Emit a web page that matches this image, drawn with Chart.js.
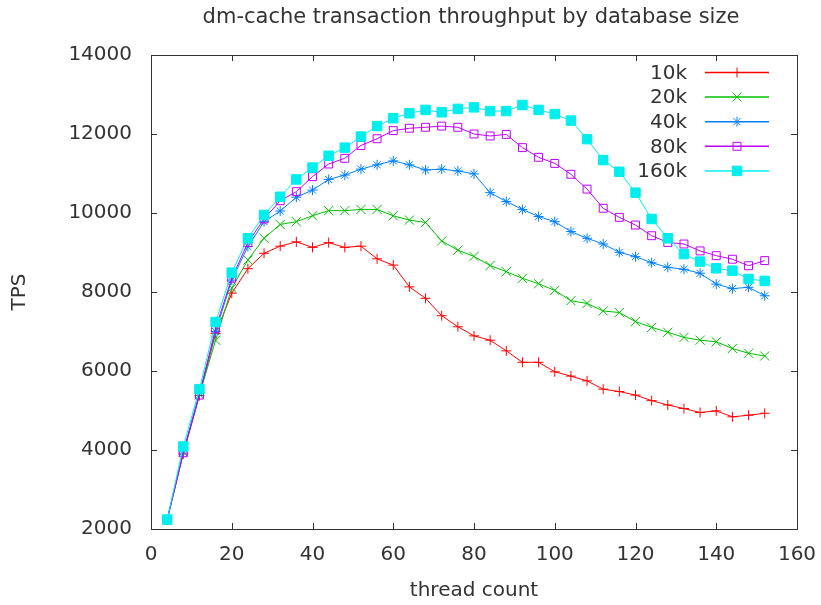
<!DOCTYPE html>
<html>
<head>
<meta charset="utf-8">
<script src="https://cdn.jsdelivr.net/npm/chart.js@4.4.1/dist/chart.umd.min.js"></script>
<style>
html,body{margin:0;padding:0;background:#fff;}
canvas{display:block;}
</style>
</head>
<body>
<canvas id="c" width="821" height="605"></canvas>
<script>
// ---- data ----
const threads = [4,8,12,16,20,24,28,32,36,40,44,48,52,56,60,64,68,72,76,80,84,88,92,96,100,104,108,112,116,120,124,128,132,136,140,144,148,152];
const seriesNames = ['10k','20k','40k','80k','160k'];
const tps10k = [2230,3900,5380,6950,7970,8590,8980,9160,9270,9130,9250,9130,9160,8840,8680,8130,7840,7400,7120,6890,6780,6510,6220,6220,5980,5870,5750,5540,5480,5390,5250,5140,5050,4950,4990,4840,4880,4930];
const tps20k = [2230,3950,5400,6780,8100,8810,9360,9710,9780,9930,10060,10060,10090,10090,9930,9820,9760,9290,9060,8900,8670,8515,8346,8210,8040,7780,7710,7520,7480,7250,7105,6980,6850,6780,6740,6570,6450,6380];
const tps40k = [2230,3950,5450,7000,8300,9150,9780,10050,10400,10580,10850,10960,11110,11220,11320,11220,11090,11110,11065,10990,10515,10290,10090,9910,9780,9530,9360,9215,9005,8895,8740,8625,8575,8475,8200,8085,8120,7905];
const tps80k = [2230,3930,5390,7080,8350,9250,9850,10310,10540,10920,11240,11385,11710,11880,12085,12145,12170,12200,12170,12000,11950,11990,11655,11410,11255,10980,10605,10120,9890,9695,9425,9255,9215,9040,8920,8830,8665,8795];
const tps160k = [2240,4090,5540,7240,8490,9360,9950,10410,10850,11150,11450,11655,11935,12200,12400,12525,12610,12550,12635,12675,12580,12580,12735,12610,12505,12340,11870,11340,11045,10515,9850,9360,8960,8770,8600,8540,8330,8280];
const xTicks = [0,20,40,60,80,100,120,140,160];
const yTicks = [2000,4000,6000,8000,10000,12000,14000];
const chartTitle = 'dm-cache transaction throughput by database size';

// ---- styles ----
const FONT = 'DejaVu Sans';
const TXT = '#333333';
const colors = ['#ff0000','#00c000','#0080ff','#c000ff','#00eeee'];
const pstyles = ['cross','crossRot','star','rect','rect'];
const pradius = [5,6.5,5,5.6,6.7];
const pfill = ['#ff0000','#00c000','#0080ff','rgba(0,0,0,0)','#00eeee'];
const allSeries = [tps10k,tps20k,tps40k,tps80k,tps160k];

const datasets = allSeries.map((vals,i)=>({
  label: seriesNames[i],
  data: threads.map((t,j)=>({x:t,y:vals[j]})),
  borderColor: colors[i],
  backgroundColor: pfill[i],
  borderWidth: 1,
  pointStyle: pstyles[i],
  pointRadius: pradius[i],
  pointBorderWidth: 1,
  pointBorderColor: colors[i],
  pointBackgroundColor: pfill[i],
  tension: 0,
  fill: false,
  order: 5 - i
}));

const framePlugin = {
  id: 'frame',
  afterDraw(chart){
    const ctx = chart.ctx;
    const a = chart.chartArea;
    const xs = chart.scales.x, ys = chart.scales.y;
    ctx.save();
    // title
    ctx.fillStyle = TXT;
    ctx.font = '21px "' + FONT + '"';
    ctx.textAlign = 'center';
    ctx.textBaseline = 'middle';
    ctx.fillText(chartTitle, 471, 18);
    // frame
    ctx.strokeStyle = '#333333';
    ctx.lineWidth = 1;
    ctx.strokeRect(Math.round(a.left)+0.5, Math.round(a.top)+0.5, Math.round(a.right-a.left), Math.round(a.bottom-a.top));
    const TL = 6;
    ctx.beginPath();
    xTicks.forEach(v=>{
      const px = Math.round(xs.getPixelForValue(v))+0.5;
      ctx.moveTo(px, a.bottom); ctx.lineTo(px, a.bottom-TL);
      ctx.moveTo(px, a.top); ctx.lineTo(px, a.top+TL);
    });
    yTicks.forEach(v=>{
      const py = Math.round(ys.getPixelForValue(v))+0.5;
      ctx.moveTo(a.left, py); ctx.lineTo(a.left+TL, py);
      ctx.moveTo(a.right, py); ctx.lineTo(a.right-TL, py);
    });
    ctx.stroke();
    // legend
    const rowH = 24.6;
    const y0 = 72.5;
    ctx.font = '20px "' + FONT + '"';
    ctx.textAlign = 'right';
    ctx.textBaseline = 'middle';
    chart.data.datasets.forEach((ds,i)=>{
      const y = y0 + i*rowH;
      ctx.fillStyle = TXT;
      ctx.fillText(ds.label, 687, y+1);
      ctx.strokeStyle = ds.borderColor;
      ctx.lineWidth = 1.5;
      ctx.beginPath();
      ctx.moveTo(705, y); ctx.lineTo(769, y);
      ctx.stroke();
      ctx.lineWidth = 1;
      ctx.fillStyle = ds.pointBackgroundColor;
      ctx.strokeStyle = ds.pointBorderColor;
      Chart.helpers.drawPoint(ctx, {pointStyle: ds.pointStyle, radius: ds.pointRadius, borderWidth: 1, rotation: 0}, 737, y);
    });
    ctx.restore();
  }
};

function zeroPad(s){ s.paddingLeft = 0; s.paddingRight = 0; s.paddingTop = 0; s.paddingBottom = 0; }

new Chart(document.getElementById('c'), {
  type: 'line',
  data: { datasets },
  options: {
    responsive: false,
    animation: false,
    layout: { padding: { left: 0, right: 24, top: 55, bottom: 0 } },
    plugins: {
      legend: { display: false },
      tooltip: { enabled: false },
      title: { display: false }
    },
    scales: {
      x: {
        type: 'linear', min: 0, max: 160,
        afterBuildTicks(s){ s.ticks = xTicks.map(v=>({value:v})); },
        ticks: { font: { family: FONT, size: 20 }, color: TXT, padding: 14, maxRotation: 0, autoSkip: false, callback: v => String(v) },
        grid: { display: false, drawTicks: false },
        border: { display: false },
        title: { display: true, text: 'thread count', font: { family: FONT, size: 20 }, color: TXT, padding: { top: 0, bottom: 2 } },
        afterFit(s){ s.height = 76; zeroPad(s); }
      },
      y: {
        type: 'linear', min: 2000, max: 14000,
        afterBuildTicks(s){ s.ticks = yTicks.map(v=>({value:v})); },
        ticks: { font: { family: FONT, size: 20 }, color: TXT, padding: 19, autoSkip: false, callback: v => String(v) },
        grid: { display: false, drawTicks: false },
        border: { display: false },
        title: { display: true, text: 'TPS', font: { family: FONT, size: 20 }, color: TXT, padding: { top: 8, bottom: 0 } },
        afterFit(s){ s.width = 151; zeroPad(s); }
      }
    }
  },
  plugins: [framePlugin]
});
</script>
</body>
</html>
